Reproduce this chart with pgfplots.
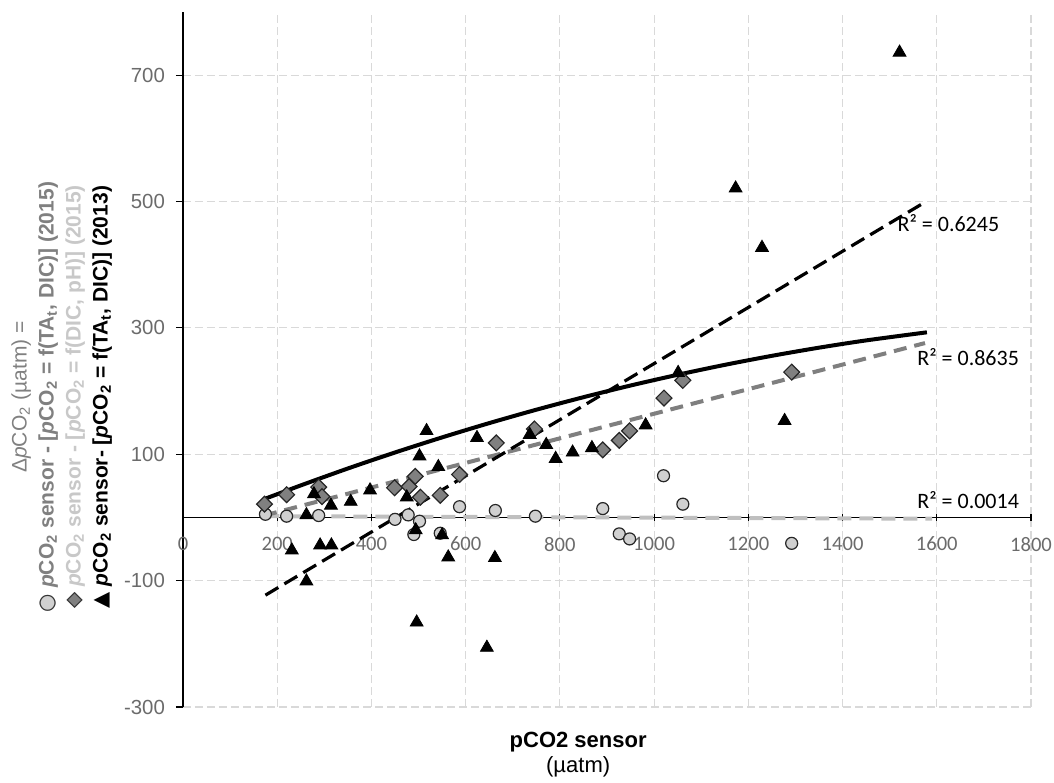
\documentclass[border=0pt]{standalone}
\usepackage{fontspec}
\setmainfont{Liberation Sans}
\newfontfamily\calibri{Carlito}
\newfontfamily\dejavu{DejaVu Sans}
\usepackage{pgfplots}
\pgfplotsset{compat=1.18}

\definecolor{gridc}{HTML}{D9D9D9}
\definecolor{tickc}{HTML}{6B6B6B}
\definecolor{circfill}{HTML}{D0D0D0}
\definecolor{diafill}{HTML}{808080}
\definecolor{lightline}{HTML}{BFBFBF}
\definecolor{midline}{HTML}{7F7F7F}
\definecolor{labA}{HTML}{808080}
\definecolor{labB}{HTML}{C8C8C8}

\newcommand{\pco}{\textit{p}CO\textsubscript{2}}
\newcommand{\mkcirc}{{\dejavu\makebox[0pt][l]{\textcolor{circfill}{●}}\textcolor{black!80}{○}}}
\newcommand{\mkdia}{{\dejavu\makebox[0pt][l]{\textcolor{diafill}{◆}}\textcolor{black!80}{◇}}}
\newcommand{\mktri}{{\dejavu\textcolor{black}{▲}}}

\begin{document}
\begin{tikzpicture}
\begin{axis}[
    scale only axis,
    width=424pt, height=347.5pt,
    xmin=0, xmax=1800, ymin=-300, ymax=800,
    axis x line=middle, axis y line=left,
    axis line style={-, black, line width=0.8pt},
    hide obscured x ticks=false, hide obscured y ticks=false,
    xtick={0,200,...,1800}, ytick={-300,-100,...,700},
    xtick align=center, ytick align=outside,
    major tick length=3.5pt,
    tick style={black, line width=0.6pt},
    grid=major,
    grid style={gridc, dash pattern=on 4pt off 2pt, line width=0.6pt},
    /pgf/number format/.cd, 1000 sep={}, assume math mode=true,
    /pgfplots/.cd,
    xticklabel style={font=\calibri\fontsize{10.3}{11}\selectfont, text=tickc, yshift=-4.5pt},
    yticklabel style={font=\fontsize{10.2}{11}\selectfont, text=tickc, xshift=-2pt},
    xlabel={{\bfseries pCO2 sensor}\\(µatm)},
    xlabel style={at={(axis description cs:0.466,-0.069)}, anchor=center, align=center,
        font=\fontsize{11}{12.5}\selectfont},
    ylabel={{\color{labA}Δ\textit{p}CO\textsubscript{2} (µatm) =}\\
        {\color{labA}\bfseries\mkcirc\ \pco\ sensor - [\pco\ = f(TA\textsubscript{t}, DIC)] (2015)}\\
        {\color{labB}\bfseries\mkdia\ \pco\ sensor - [\pco\ = f(DIC, pH)] (2015)}\\
        {\color{black}\bfseries\mktri\ \pco\ sensor- [\pco\ = f(TA\textsubscript{t}, DIC)] (2013)}},
    ylabel style={at={(axis description cs:-0.143,0.446)}, anchor=center, align=center,
        rotate=0, font=\fontsize{10.5}{13.5}\selectfont},
    clip=false,
]
% pCO2 = f(TA_t, DIC) (2015)
\addplot[only marks, mark=*, mark size=3pt,
    mark options={fill=circfill, draw=black!85, line width=0.6pt}] coordinates {
    (175,5) (220,2) (288,3) (450,-3) (478,4) (502,-6) (490,-27) (546,-25)
    (587,17) (663,11) (748,2) (891,14) (926,-26) (948,-34) (1020,66)
    (1061,21) (1292,-41)
};
% pCO2 = f(DIC, pH) (2015)
\addplot[only marks, mark=square*, mark size=2.8pt,
    mark options={rotate=45, fill=diafill, draw=black!85, line width=0.6pt}] coordinates {
    (173,21) (220,36) (288,48) (295,33) (449,47) (480,49) (493,65) (504,32)
    (546,35) (587,68) (665,118) (746,140) (891,107) (926,122) (948,137)
    (1021,189) (1061,217) (1292,230)
};
% pCO2 = f(TA_t, DIC) (2013)
\addplot[only marks, mark=triangle*, mark size=3.7pt,
    mark options={fill=black, draw=black}] coordinates {
    (231,-52) (262,-101) (262,4) (278,37) (291,-44) (315,-44) (314,19)
    (356,25) (397,43) (475,32) (494,-20) (496,-166) (502,97) (517,137)
    (542,80) (550,-28) (563,-63) (624,126) (645,-206) (662,-64) (736,131)
    (771,115) (791,93) (827,103) (868,110) (982,146) (1051,229) (1173,521)
    (1229,427) (1277,153) (1521,736)
};
% trend lines
\addplot[lightline, line width=2pt, dash pattern=on 7pt off 4pt] coordinates {
    (175,2) (1590,-2)
};
\addplot[midline, line width=2pt, dash pattern=on 6.5pt off 4pt] coordinates {
    (172,3) (1575,276)
};
\addplot[black, line width=1.6pt, dash pattern=on 7.5pt off 3.5pt] coordinates {
    (175,-123) (1575,499)
};
\addplot[black, line width=2pt, smooth] coordinates {
    (174,29.5) (250,50.7) (350,77.5) (450,102.8) (550,126.7) (650,149.3)
    (750,170.5) (850,190.3) (950,208.8) (1050,225.8) (1150,241.5)
    (1250,255.8) (1350,268.7) (1450,280.2) (1579,293)
};
\node[anchor=west, font=\calibri\fontsize{11}{12}\selectfont, inner sep=0pt]
    at (axis cs:1516,466) {R² = 0.6245};
\node[anchor=west, font=\calibri\fontsize{11}{12}\selectfont, inner sep=0pt]
    at (axis cs:1558,253) {R² = 0.8635};
\node[anchor=west, font=\calibri\fontsize{11}{12}\selectfont, inner sep=0pt]
    at (axis cs:1558,28) {R² = 0.0014};
\end{axis}
\pgfresetboundingbox
\path[use as bounding box] ([xshift=-91.5pt,yshift=-38pt]current axis.south west)
    rectangle ([xshift=11.5pt,yshift=6pt]current axis.north east);
\end{tikzpicture}
\end{document}
